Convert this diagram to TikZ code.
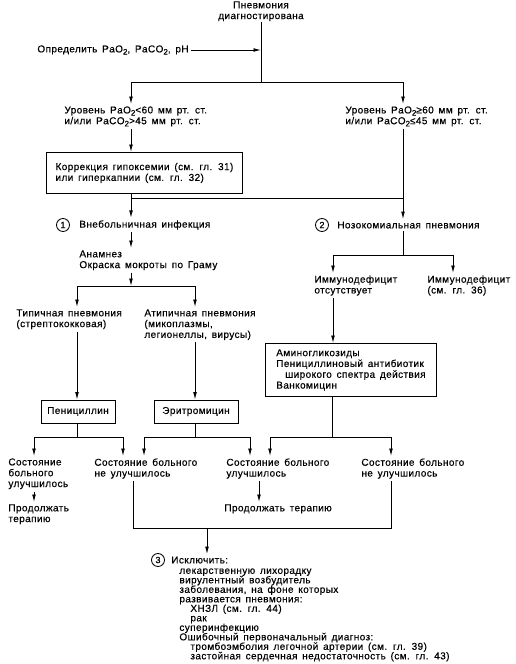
\documentclass[tikz,border=0pt]{standalone}
\usepackage{fontspec}
\setmainfont{Liberation Sans}[LetterSpace=4, WordSpace=1.5, FakeBold=0.4]
\usetikzlibrary{positioning,arrows.meta}
\newcommand{\lowidx}[1]{\raisebox{-2.2pt}{\fontsize{8}{8}\selectfont #1}}

\begin{document}
\begin{tikzpicture}[
    x=1pt, y=-1pt,
    font=\fontsize{10}{10.8}\selectfont,
    line width=0.85pt,
    txt/.style={inner sep=0pt, align=left},
    box/.style={rectangle, draw, inner sep=0pt, align=left},
    num/.style={circle, draw, inner sep=0pt, minimum size=13pt,
                font=\fontsize{9}{9}\selectfont},
    arrow/.style={-{Latex[length=7.5pt,width=3.8pt]}},
    tarrow/.style={arrow, shorten >=2pt},
    gap/.style={shorten <=2pt}
  ]
  \useasboundingbox[fill=white] (0,0) rectangle (516,664);

  % ----- Top: diagnosis and blood gases -----
  \node[txt, align=center, anchor=north] (diag) at (261,1) {Пневмония\\диагностирована};
  \node[txt, anchor=west] (meas) at (37,50) {Определить PaO\lowidx{2}, PaCO\lowidx{2}, pH};
  \coordinate (top) at (261,82);
  \coordinate (aL)  at (131,82);
  \coordinate (aR)  at (403,82);
  \draw (diag.south) -- (top);
  \draw[arrow, gap] (meas.east) -- (meas.east -| top);
  \draw (aL) -- (aR);

  \node[txt, anchor=north west] (lvlL) at (64,106)
    {Уровень PaO\lowidx{2}<60 мм рт. ст.\\и/или PaCO\lowidx{2}>45 мм рт. ст.};
  \node[txt, anchor=north west] (lvlR) at (345,106)
    {Уровень PaO\lowidx{2}≥60 мм рт. ст.\\и/или PaCO\lowidx{2}≤45 мм рт. ст.};
  \draw[tarrow] (aL) -- (lvlL.north -| aL);
  \draw[tarrow] (aR) -- (lvlR.north -| aR);

  % ----- Correction box -----
  \node[box, anchor=north west, minimum width=196pt, minimum height=41pt] (corr) at (46,152)
    {Коррекция гипоксемии (см. гл. 31)\\ или гиперкапнии (см. гл. 32)};
  \draw[arrow, gap] (lvlL.south -| aL) -- (corr.north -| aL);
  \coordinate (bL) at (131,198);
  \coordinate (bR) at (403,198);
  \draw (corr.south -| bL) -- (bL) -- (bR);

  % ----- Circled branches -----
  \node[num] (n1) at (63,225) {1};
  \node[txt, right=9pt of n1] (inf1) {Внебольничная инфекция};
  \node[num] (n2) at (322,225) {2};
  \node[txt, right=8pt of n2] (inf2) {Нозокомиальная пневмония};
  \draw[tarrow] (bL) -- (inf1.north -| bL);
  \draw[tarrow, gap] (lvlR.south -| aR) -- (inf2.north -| aR);

  % ----- Left: community infection -----
  \node[txt, anchor=north west] (anam) at (79,250) {Анамнез\\Окраска мокроты по Граму};
  \draw[tarrow, gap] (inf1.south -| bL) -- (anam.north -| bL);
  \coordinate (cL) at (131,286);
  \coordinate (dL) at (77,286);
  \coordinate (dR) at (195,286);
  \draw[arrow, gap] (anam.south -| cL) -- (cL);
  \draw (dL) -- (dR);
  \node[txt, anchor=north west] (typ) at (16,309) {Типичная пневмония\\(стрептококковая)};
  \node[txt, anchor=north west] (atyp) at (144,309) {Атипичная пневмония\\(микоплазмы,\\ легионеллы, вирусы)};
  \draw[tarrow] (dL) -- (typ.north -| dL);
  \draw[tarrow] (dR) -- (atyp.north -| dR);
  \node[box, minimum width=74pt, minimum height=23pt] (pen) at (78,411.5) {Пенициллин};
  \node[box, minimum width=84pt, minimum height=23pt] (ery) at (196,411.5) {Эритромицин};
  \draw[arrow, gap] (typ.south -| dL) -- (pen.north -| dL);
  \draw[arrow, gap] (atyp.south -| dR) -- (ery.north -| dR);

  % ----- Right: nosocomial -----
  \coordinate (eM) at (403,255);
  \coordinate (eL) at (333,255);
  \coordinate (eR) at (453,255);
  \draw[gap] (inf2.south -| eM) -- (eM);
  \draw (eL) -- (eR);
  \node[txt, anchor=north west] (imm0) at (314,275) {Иммунодефицит\\отсутствует};
  \node[txt, anchor=north west] (imm1) at (427,275) {Иммунодефицит\\(см. гл. 36)};
  \draw[tarrow] (eL) -- (imm0.north -| eL);
  \draw[tarrow] (eR) -- (imm1.north -| eR);
  \node[box, anchor=north west, minimum width=171pt, minimum height=53pt] (abx) at (265,343)
    {Аминогликозиды\\Пенициллиновый антибиотик\\\hspace*{9pt}широкого спектра действия\\Ванкомицин};
  \draw[arrow, gap] (imm0.south -| eL) -- (abx.north -| eL);

  % ----- Outcomes -----
  \coordinate (gP)  at (77,437);
  \coordinate (gP1) at (34,437);
  \coordinate (gP2) at (123,437);
  \coordinate (gE)  at (195,437);
  \coordinate (gE1) at (144,437);
  \coordinate (gE2) at (250,437);
  \coordinate (gA)  at (332,437);
  \coordinate (gA1) at (270,437);
  \coordinate (gA2) at (391,437);
  \draw (pen.south -| gP) -- (gP);
  \draw (ery.south -| gE) -- (gE);
  \draw (abx.south -| gA) -- (gA);
  \draw (gP1) -- (gP2);
  \draw (gE1) -- (gE2);
  \draw (gA1) -- (gA2);

  \node[txt, anchor=north west] (s1) at (8,458) {Состояние\\больного\\улучшилось};
  \node[txt, anchor=north west] (s2) at (94,458) {Состояние больного\\не улучшилось};
  \node[txt, anchor=north west] (s3) at (226,458) {Состояние больного\\улучшилось};
  \node[txt, anchor=north west] (s4) at (361,458) {Состояние больного\\не улучшилось};
  \draw[tarrow] (gP1) -- (s1.north -| gP1);
  \draw[tarrow] (gP2) -- (s2.north -| gP2);
  \draw[tarrow] (gE1) -- (s2.north -| gE1);
  \draw[tarrow] (gE2) -- (s3.north -| gE2);
  \draw[tarrow] (gA1) -- (s3.north -| gA1);
  \draw[tarrow] (gA2) -- (s4.north -| gA2);

  \node[txt, anchor=north west] (cont1) at (8,504) {Продолжать\\терапию};
  \node[txt, anchor=north west] (cont2) at (224,504) {Продолжать терапию};
  \coordinate (hC) at (259,480);
  \draw[tarrow, gap] (s1.south -| gP1) -- (cont1.north -| gP1);
  \draw[tarrow, gap] (s3.south -| hC) -- (cont2.north -| hC);

  % ----- Exclusion -----
  \coordinate (kL) at (133,528);
  \coordinate (kR) at (391,528);
  \coordinate (kM) at (207,528);
  \draw[shorten <=2pt, shorten >=2pt] (s2.south -| kL) -- (kL) -- (kR) -- (s4.south -| kR);
  \node[num] (n3) at (158,560) {3};
  \node[txt, right=6pt of n3] (ex) {Исключить:};
  \draw[tarrow] (kM) -- (ex.north -| kM);
  \node[txt, anchor=north west, font=\fontsize{10}{9.5}\selectfont] (lst) at (179,568)
    {лекарственную лихорадку\\вирулентный возбудитель\\заболевания, на фоне которых\\
     развивается пневмония:\\\hspace*{11pt}ХНЗЛ (см. гл. 44)\\\hspace*{11pt}рак\\суперинфекцию\\
     Ошибочный первоначальный диагноз:\\\hspace*{11pt}тромбоэмболия легочной артерии (см. гл. 39)\\
     \hspace*{11pt}застойная сердечная недостаточность (см. гл. 43)};
\end{tikzpicture}
\end{document}
